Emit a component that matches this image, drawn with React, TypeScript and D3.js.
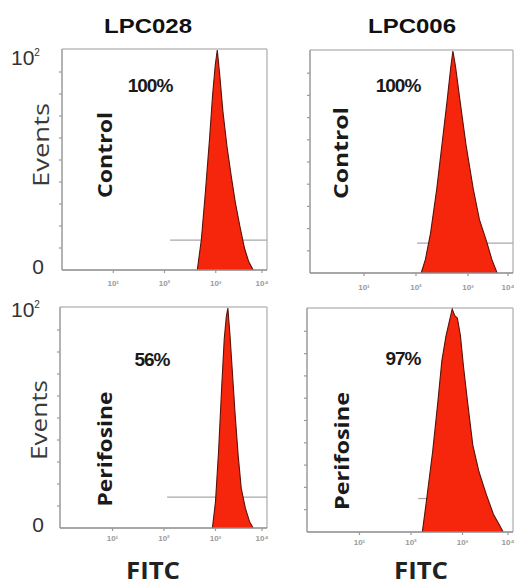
import React from "react";
import * as d3 from "d3";

const cellLines = ["LPC028", "LPC006"];
const treatments = ["Control", "Perifosine"];
const positives = ["100%", "100%", "56%", "97%"];
const decades = [1, 2, 3, 4];
const decadeText = ["10¹", "10²", "10³", "10⁴"];

// histogram outlines: log10 FITC intensity vs events (% of max)
const fitcP1 = [2.64, 2.72, 2.8, 2.88, 2.94, 2.99, 3.03, 3.08, 3.14, 3.22, 3.3, 3.38, 3.47, 3.56, 3.64, 3.73];
const eventsP1 = [0, 14, 36, 60, 80, 93, 100, 88, 72, 56, 43, 31, 20, 10, 4, 0];
const fitcP2 = [2.1, 2.18, 2.28, 2.4, 2.5, 2.6, 2.67, 2.71, 2.76, 2.85, 2.96, 3.1, 3.22, 3.36, 3.46, 3.56];
const eventsP2 = [0, 6, 18, 38, 58, 78, 93, 100, 93, 77, 58, 38, 24, 14, 6, 0];
const fitcP3 = [2.94, 3.0, 3.06, 3.12, 3.17, 3.21, 3.24, 3.28, 3.33, 3.38, 3.44, 3.5, 3.58, 3.66, 3.73];
const eventsP3 = [0, 12, 35, 64, 86, 96, 100, 88, 70, 52, 33, 18, 9, 3, 0];
const fitcP4 = [2.22, 2.3, 2.42, 2.52, 2.6, 2.68, 2.75, 2.8, 2.85, 2.9, 2.96, 3.02, 3.1, 3.2, 3.32, 3.46, 3.6, 3.72, 3.79];
const eventsP4 = [0, 14, 36, 58, 77, 88, 95, 100, 97, 96, 88, 74, 58, 39, 27, 17, 8, 3, 0];

// marker gates (log10 start/end, event level)
const gateStart = [2.11, 2.02, 2.06, 2.14];
const gateEnd = [4, 4, 4, 2.45];
const gateLevel = [13.6, 13.5, 14, 15];

const series = [
  [fitcP1, eventsP1],
  [fitcP2, eventsP2],
  [fitcP3, eventsP3],
  [fitcP4, eventsP4],
];

// panel geometry
const frames = [
  { x0: 62, x1: 267, y0: 49, y1: 270, xr: [62, 267], tickY: 286, pct: [150, 92], trt: [112, 155, 86] },
  { x0: 310, x1: 513, y0: 50, y1: 273, xr: [312, 520], tickY: 290, pct: [398, 92], trt: [348, 153, 92] },
  { x0: 60, x1: 267, y0: 307, y1: 528, xr: [61, 267], tickY: 541, pct: [152, 366], trt: [112, 449, 115] },
  { x0: 307, x1: 513, y0: 308, y1: 532, xr: [308, 514], tickY: 545, pct: [403, 365], trt: [349, 451, 118] },
];

const titlePos = [[148, 33], [412, 33]];
const fitcPos = [[153, 579], [421, 579]];
const eventsPos = [[49, 145, 84], [47, 420, 80]];

const Panel = ({ i }: { i: number }) => {
  const f = frames[i];
  const x = d3.scaleLog().domain([1, 1e4]).range(f.xr);
  const y = d3.scaleLinear().domain([0, 100]).range([f.y1, f.y0 + 1]);
  const [fitc, ev] = series[i];
  const pts = fitc.map((v, k) => ({ v, c: ev[k] }));
  const area = d3
    .area<{ v: number; c: number }>()
    .x((d) => x(10 ** d.v))
    .y0(f.y1)
    .y1((d) => y(d.c))
    .curve(d3.curveLinear);
  const line = d3
    .line<{ v: number; c: number }>()
    .x((d) => x(10 ** d.v))
    .y((d) => y(d.c));
  const yTicks = d3.range(10, 100, 10);
  const isLeft = i % 2 === 0;
  const isTop = i < 2;
  return (
    <g>
      {/* frame */}
      <line x1={f.x0} x2={f.x1} y1={f.y0} y2={f.y0} stroke="#bdbdbd" strokeWidth={1.5} />
      <line x1={f.x1} x2={f.x1} y1={f.y0} y2={f.y1} stroke="#bdbdbd" strokeWidth={1.5} />
      <line x1={f.x0} x2={f.x0} y1={f.y0} y2={f.y1} stroke="#9a9a9a" strokeWidth={1.5} />
      {yTicks.map((t) => (
        <line key={t} x1={f.x0 - 3} x2={f.x0} y1={y(t)} y2={y(t)} stroke="#9a9a9a" strokeWidth={1.2} />
      ))}
      {/* gate */}
      <line
        x1={x(10 ** gateStart[i])}
        x2={Math.min(x(10 ** gateEnd[i]), f.x1)}
        y1={y(gateLevel[i])}
        y2={y(gateLevel[i])}
        stroke="#a8a8a8"
        strokeWidth={1.3}
      />
      {/* histogram */}
      <path d={area(pts) || ""} fill="#f5260c" />
      <path d={line(pts) || ""} fill="none" stroke="#5a1208" strokeWidth={1.1} />
      {/* x axis */}
      <line x1={f.x0} x2={f.x1} y1={f.y1} y2={f.y1} stroke="#8a8a8a" strokeWidth={1.6} />
      {decades.map((e, k) => {
        const px = Math.min(x(10 ** e), f.x1 - 5);
        return (
          <g key={e}>
            <line x1={px} x2={px} y1={f.y1} y2={f.y1 + 3} stroke="#9a9a9a" strokeWidth={1.2} />
            <text
              x={px}
              y={f.tickY}
              textAnchor="middle"
              fontSize={8}
              fontWeight="bold"
              fill="#9a9a9a"
              fontFamily="Liberation Sans"
            >
              {decadeText[k]}
            </text>
          </g>
        );
      })}
      {/* labels */}
      <text
        x={f.pct[0]}
        y={f.pct[1]}
        textAnchor="middle"
        fontSize={19}
        fontWeight="bold"
        fontFamily="Liberation Sans"
        fill="#1a1a1a"
        letterSpacing={-1}
      >
        {positives[i]}
      </text>
      <text
        transform={`translate(${f.trt[0]},${f.trt[1]}) rotate(-90)`}
        textAnchor="middle"
        fontSize={20}
        fontWeight="bold"
        fontFamily="Open Sans"
        fill="#1a1a1a"
        textLength={f.trt[2]}
        lengthAdjust="spacingAndGlyphs"
      >
        {treatments[isTop ? 0 : 1]}
      </text>
      {isLeft && (
        <g fontFamily="Liberation Sans" fill="#333">
          <text x={38} y={f.y1 + 4} textAnchor="middle" fontSize={21}>
            0
          </text>
          <text x={11} y={f.y0 + (isTop ? 16 : 10)} fontSize={21}>
            10
            <tspan fontSize={10} dy={-9}>
              2
            </tspan>
          </text>
        </g>
      )}
    </g>
  );
};

export default function App() {
  return (
    <svg
      width={514}
      height={585}
      style={{ position: "absolute", left: 0, top: 0, background: "#fff" }}
    >
      <rect width={514} height={585} fill="#fff" />
      {cellLines.map((c, k) => (
        <text
          key={c}
          x={titlePos[k][0]}
          y={titlePos[k][1]}
          textAnchor="middle"
          fontSize={20}
          fontWeight="bold"
          fontFamily="Liberation Sans"
          fill="#111"
          textLength={88}
          lengthAdjust="spacingAndGlyphs"
        >
          {c}
        </text>
      ))}
      {eventsPos.map((p, k) => (
        <text
          key={k}
          transform={`translate(${p[0]},${p[1]}) rotate(-90)`}
          textAnchor="middle"
          fontSize={22}
          fontFamily="Open Sans"
          fill="#3a3a3a"
          textLength={p[2]}
          lengthAdjust="spacingAndGlyphs"
        >
          Events
        </text>
      ))}
      {frames.map((_, i) => (
        <Panel key={i} i={i} />
      ))}
      {fitcPos.map((p, k) => (
        <text
          key={k}
          x={p[0]}
          y={p[1]}
          textAnchor="middle"
          fontSize={23}
          fontWeight="bold"
          fontFamily="Open Sans"
          fill="#222"
          textLength={54}
          lengthAdjust="spacingAndGlyphs"
        >
          FITC
        </text>
      ))}
    </svg>
  );
}
